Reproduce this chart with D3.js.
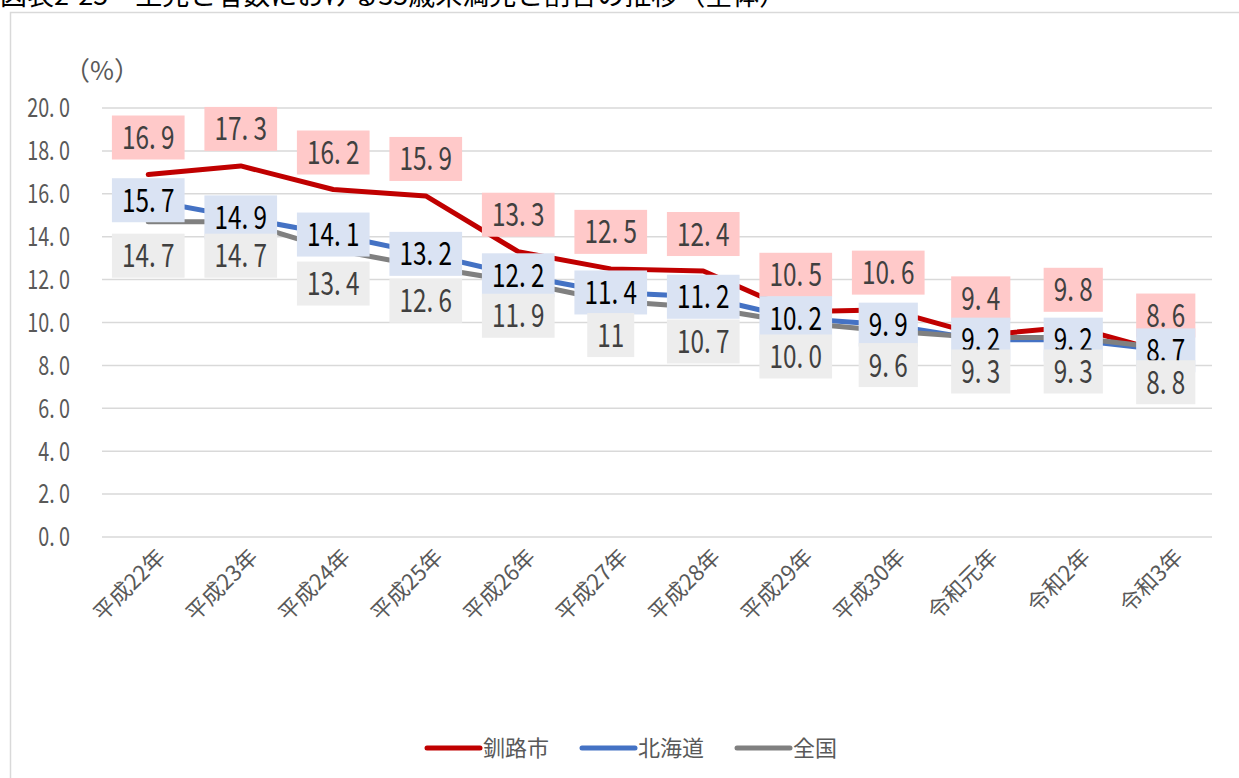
<!DOCTYPE html>
<html>
<head>
<meta charset="utf-8">
<script src="https://cdn.jsdelivr.net/npm/d3@7/dist/d3.min.js"></script>
<style>
  body { margin: 0; background: #fff; }
  text { font-family: "Noto Sans CJK JP", "Noto Sans", sans-serif; }
</style>
</head>
<body>
<script>
var categories = ["平成22年","平成23年","平成24年","平成25年","平成26年","平成27年","平成28年","平成29年","平成30年","令和元年","令和2年","令和3年"];
var kushiro = [16.9, 17.3, 16.2, 15.9, 13.3, 12.5, 12.4, 10.5, 10.6, 9.4, 9.8, 8.6];
var hokkaido = [15.7, 14.9, 14.1, 13.2, 12.2, 11.4, 11.2, 10.2, 9.9, 9.2, 9.2, 8.7];
var zenkoku = [14.7, 14.7, 13.4, 12.6, 11.9, 11.0, 10.7, 10.0, 9.6, 9.3, 9.3, 8.8];
var zenkokuLabels = ["14.7","14.7","13.4","12.6","11.9","11","10.7","10.0","9.6","9.3","9.3","8.8"];
var yTicks = [0, 2, 4, 6, 8, 10, 12, 14, 16, 18, 20];

var width = 1239, height = 778;
var svg = d3.select("body").append("svg")
	.attr("width", width)
	.attr("height", height);

// title, cut off at the top like the source
svg.append("text")
	.attr("x", 0)
	.attr("y", 5)
	.attr("font-size", 27)
	.attr("fill", "#000")
	.text("図表2-25　生児と者数における35歳未満児と割合の推移（全体）");

// chart frame
svg.append("rect")
	.attr("x", 10.5).attr("y", 12.5)
	.attr("width", 1260).attr("height", 800)
	.attr("fill", "none")
	.attr("stroke", "#D9D9D9")
	.attr("stroke-width", 1.5);

var x = d3.scaleBand()
	.domain(categories)
	.range([102, 1212]);
var y = d3.scaleLinear()
	.domain([0, 20])
	.range([537, 108]);
function cx(i) { return x(categories[i]) + x.bandwidth() / 2; }

var narrow = 0.76;

// grid
svg.append("g").selectAll("line")
	.data(yTicks)
	.enter().append("line")
	.attr("x1", 102).attr("x2", 1212)
	.attr("y1", function(d) { return y(d); })
	.attr("y2", function(d) { return y(d); })
	.attr("stroke", "#D9D9D9")
	.attr("stroke-width", 1.5);

// y tick labels
svg.append("g").selectAll("text")
	.data(yTicks)
	.enter().append("text")
	.attr("transform", function(d) { return "translate(70," + y(d) + ") scale(" + narrow + ",1)"; })
	.attr("dy", "0.36em")
	.attr("text-anchor", "end")
	.attr("font-size", 26)
	.attr("fill", "#595959")
	.text(function(d) { return d3.format(".1f")(d).replace(".", ". "); });

svg.append("text")
	.attr("x", 64).attr("y", 80)
	.attr("font-size", 26)
	.attr("fill", "#595959")
	.text("（%）");

// x labels
svg.append("g").selectAll("text")
	.data(categories)
	.enter().append("text")
	.attr("transform", function(d, i) { return "translate(" + (cx(i) + 13) + ",553) rotate(-45)"; })
	.attr("dy", "0.35em")
	.attr("text-anchor", "end")
	.attr("font-size", 22)
	.attr("fill", "#595959")
	.text(function(d) { return d; });

var series = [
	{name: "釧路市", values: kushiro, labels: kushiro.map(function(v) { return v.toFixed(1); }), color: "#C00000", box: "#FFC9C9", txt: "#404040", dy: -37},
	{name: "北海道", values: hokkaido, labels: hokkaido.map(function(v) { return v.toFixed(1); }), color: "#4472C4", box: "#DAE3F3", txt: "#000000", dy: 0},
	{name: "全国", values: zenkoku, labels: zenkokuLabels, color: "#808080", box: "#EDEDED", txt: "#404040", dy: 34}
];

var line = d3.line()
	.x(function(d, i) { return cx(i); })
	.y(function(d) { return y(d); });

series.forEach(function(s) {
	svg.append("path")
		.datum(s.values)
		.attr("d", line)
		.attr("fill", "none")
		.attr("stroke", s.color)
		.attr("stroke-width", 5)
		.attr("stroke-linejoin", "round")
		.attr("stroke-linecap", "round");
});

// data labels
series.forEach(function(s) {
	var g = svg.append("g").selectAll("g")
		.data(s.values)
		.enter().append("g")
		.attr("transform", function(d, i) { return "translate(" + cx(i) + "," + (y(d) + s.dy) + ")"; });
	var rects = g.append("rect").attr("fill", s.box);
	var t = g.append("text")
		.attr("transform", "scale(" + narrow + ",1)")
		.attr("text-anchor", "middle")
		.attr("dy", "0.36em")
		.attr("font-size", 32)
		.attr("fill", s.txt)
		.text(function(d, i) { return s.labels[i].replace(".", ". "); });
	t.each(function(d, i) {
		var w = this.getComputedTextLength() * narrow + 20;
		d3.select(rects.nodes()[i])
			.attr("x", -w / 2).attr("y", -22)
			.attr("width", w).attr("height", 44);
	});
});

// legend
var legendX = [425, 580, 735];
var lg = svg.append("g").selectAll("g")
	.data(series)
	.enter().append("g")
	.attr("transform", function(d, i) { return "translate(" + legendX[i] + ",748)"; });
lg.append("line")
	.attr("x1", 2).attr("x2", 55)
	.attr("stroke", function(d) { return d.color; })
	.attr("stroke-width", 5)
	.attr("stroke-linecap", "round");
lg.append("text")
	.attr("x", 58)
	.attr("dy", "0.36em")
	.attr("font-size", 22)
	.attr("fill", "#595959")
	.text(function(d) { return d.name; });
</script>
</body>
</html>
